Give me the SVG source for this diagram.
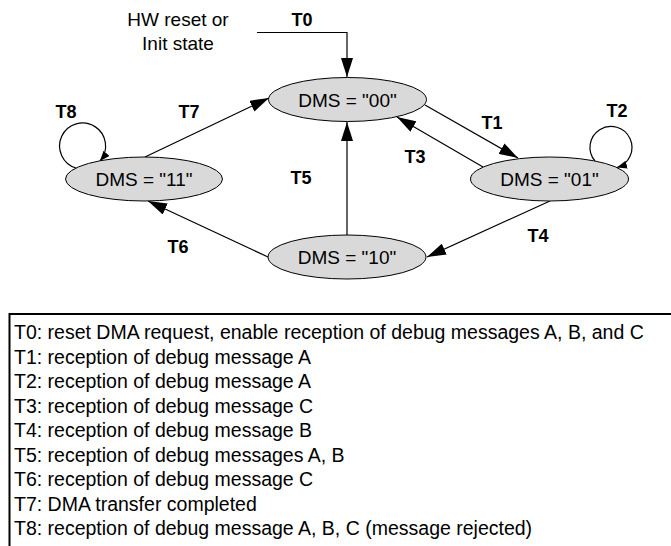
<svg xmlns="http://www.w3.org/2000/svg" width="671" height="546" viewBox="0 0 671 546">
<style>
  text { font-family: "Liberation Sans", Arial, sans-serif; fill: #000; }
  .lbl { font-size: 19px; text-anchor: middle; }
  .t { font-size: 18px; font-weight: bold; text-anchor: middle; }
  .lst { font-size: 19.5px; }
  .state { fill: #d9d9d9; stroke: #000; stroke-width: 1; }
  .conn { fill: none; stroke: #000; stroke-width: 1.2; }
</style>
<defs>
  <marker id="arr" markerUnits="userSpaceOnUse" viewBox="0 0 19 12" markerWidth="19" markerHeight="12" refX="19" refY="6" orient="auto">
    <path d="M0,0 L19,6 L0,12 z" fill="#000"/>
  </marker>
  <marker id="arrs" markerUnits="userSpaceOnUse" viewBox="0 0 10 8" markerWidth="10" markerHeight="8" refX="10" refY="4" orient="auto">
    <path d="M0,0 L10,4 L0,8 z" fill="#000"/>
  </marker>
</defs>

<g id="init-label">
  <text class="lbl" x="178" y="26">HW reset or</text>
  <text class="lbl" x="178" y="50">Init state</text>
</g>

<g id="connectors">
  <path id="c-T0" class="conn" d="M257,32.5 H347 V77" marker-end="url(#arr)"/>
  <path id="c-T1" class="conn" d="M425,105 L518,158" marker-end="url(#arr)"/>
  <path id="c-T2" class="conn" d="M595,161 A21,21 0 1 1 617,167.5" marker-end="url(#arrs)"/>
  <path id="c-T3" class="conn" d="M483,167 L397,117" marker-end="url(#arr)"/>
  <path id="c-T4" class="conn" d="M550,201 L427,257" marker-end="url(#arr)"/>
  <path id="c-T5" class="conn" d="M347,235 V122" marker-end="url(#arr)"/>
  <path id="c-T6" class="conn" d="M268,257 L148,201" marker-end="url(#arr)"/>
  <path id="c-T7" class="conn" d="M145,157 L269,98" marker-end="url(#arr)"/>
  <path id="c-T8" class="conn" d="M76,168 A23,23 0 1 1 100,161" marker-end="url(#arrs)"/>
  <text class="t" x="302" y="26">T0</text>
  <text class="t" x="492" y="129">T1</text>
  <text class="t" x="617" y="117">T2</text>
  <text class="t" x="415" y="163">T3</text>
  <text class="t" x="538" y="242">T4</text>
  <text class="t" x="301" y="184">T5</text>
  <text class="t" x="178" y="253">T6</text>
  <text class="t" x="189" y="118">T7</text>
  <text class="t" x="66" y="118">T8</text>
</g>

<g id="s00">
  <ellipse class="state" cx="347.5" cy="99.5" rx="79" ry="22"/>
  <text class="lbl" x="347.5" y="106.5">DMS = "00"</text>
</g>
<g id="s01">
  <ellipse class="state" cx="549.5" cy="179" rx="79" ry="22"/>
  <text class="lbl" x="549.5" y="186">DMS = "01"</text>
</g>
<g id="s11">
  <ellipse class="state" cx="144" cy="179" rx="78.5" ry="22"/>
  <text class="lbl" x="144" y="186">DMS = "11"</text>
</g>
<g id="s10">
  <ellipse class="state" cx="347" cy="257" rx="79" ry="22"/>
  <text class="lbl" x="347" y="264">DMS = "10"</text>
</g>

<g id="legend">
  <path d="M672,314 H9.5 V547" fill="none" stroke="#000" stroke-width="2"/>
  <text class="lst" x="14" y="339">T0: reset DMA request, enable reception of debug messages A, B, and C</text>
  <text class="lst" x="14" y="363.5">T1: reception of debug message A</text>
  <text class="lst" x="14" y="388">T2: reception of debug message A</text>
  <text class="lst" x="14" y="412.5">T3: reception of debug message C</text>
  <text class="lst" x="14" y="437">T4: reception of debug message B</text>
  <text class="lst" x="14" y="461.5">T5: reception of debug messages A, B</text>
  <text class="lst" x="14" y="486">T6: reception of debug message C</text>
  <text class="lst" x="14" y="510.5">T7: DMA transfer completed</text>
  <text class="lst" x="14" y="535">T8: reception of debug message A, B, C (message rejected)</text>
</g>
</svg>
